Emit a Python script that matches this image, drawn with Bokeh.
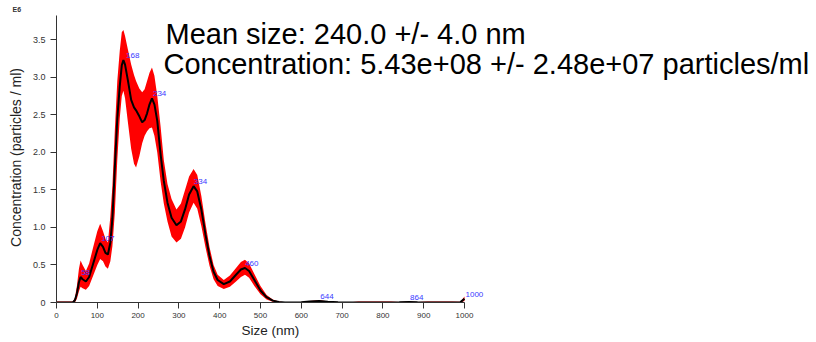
from bokeh.plotting import figure
from bokeh.models import (ColumnDataSource, LabelSet, Label, Range1d, FixedTicker,
                          CustomJSTickFormatter, Title)
from bokeh.core.properties import value
from bokeh.embed import file_html
from bokeh.resources import INLINE

# ---- data ----
size_nm = [0, 40, 45, 50, 55, 59, 64, 72, 80, 90, 100, 107, 114, 120, 126, 132, 137, 143, 149, 155,
           160, 164, 168, 175, 183, 190, 195, 203, 210, 216, 222, 228, 234, 240, 247, 255, 263, 272,
           282, 294, 305, 315, 325, 336, 345, 355, 365, 375, 385, 395, 410, 425, 440, 452, 462, 472,
           485, 500, 515, 530, 545, 560, 600, 620, 644, 665, 690, 720, 740, 820, 840, 864, 885, 910,
           970, 990, 1000]
conc_mean = [0, 0, 0.03, 0.12, 0.27, 0.34, 0.31, 0.28, 0.34, 0.52, 0.70, 0.79, 0.74, 0.66, 0.64, 0.80,
             1.12, 1.80, 2.45, 2.88, 3.16, 3.23, 3.17, 2.96, 2.70, 2.60, 2.56, 2.48, 2.40, 2.43, 2.52,
             2.64, 2.72, 2.64, 2.42, 1.98, 1.62, 1.33, 1.13, 1.03, 1.08, 1.24, 1.44, 1.55, 1.48, 1.24,
             0.91, 0.62, 0.41, 0.30, 0.245, 0.28, 0.37, 0.44, 0.46, 0.42, 0.30, 0.16, 0.07, 0.025,
             0.006, 0, 0.003, 0.012, 0.02, 0.01, 0.002, 0, 0, 0, 0.002, 0.006, 0.002, 0, 0, 0.005, 0.05]
conc_lower = [0, 0, 0.0, 0.05, 0.15, 0.21, 0.19, 0.17, 0.22, 0.36, 0.50, 0.58, 0.55, 0.48, 0.45, 0.55,
              0.75, 1.20, 1.90, 2.45, 2.75, 2.82, 2.72, 2.40, 2.05, 1.85, 1.80, 1.95, 2.12, 2.22, 2.28,
              2.32, 2.33, 2.22, 2.00, 1.62, 1.32, 1.08, 0.88, 0.80, 0.85, 1.00, 1.20, 1.33, 1.25, 1.02,
              0.74, 0.49, 0.31, 0.22, 0.18, 0.21, 0.28, 0.34, 0.37, 0.33, 0.22, 0.11, 0.04, 0.01,
              0.0, 0, 0, 0.004, 0.012, 0.004, 0, 0, 0, 0, 0, 0.002, 0, 0, 0, 0, 0.02]
conc_upper = [0.012, 0.012, 0.06, 0.22, 0.45, 0.56, 0.50, 0.42, 0.52, 0.74, 0.95, 1.05, 0.95, 0.85, 0.80,
              1.15, 1.55, 2.30, 2.95, 3.35, 3.60, 3.63, 3.55, 3.37, 3.17, 3.03, 2.95, 2.85, 2.80, 2.84,
              2.95, 3.06, 3.13, 3.02, 2.75, 2.35, 1.90, 1.58, 1.38, 1.24, 1.32, 1.50, 1.68, 1.78, 1.70,
              1.42, 1.06, 0.74, 0.50, 0.37, 0.30, 0.36, 0.46, 0.54, 0.57, 0.52, 0.38, 0.22, 0.10, 0.04,
              0.012, 0.004, 0.008, 0.02, 0.03, 0.018, 0.006, 0.002, 0.012, 0.012, 0.006, 0.012, 0.006,
              0.012, 0.012, 0.01, 0.08]

peak_sizes = [58, 107, 168, 234, 334, 460, 644, 864, 1000]
peak_heights = [0.34, 0.79, 3.23, 2.72, 1.55, 0.46, 0.02, 0.006, 0.05]
peak_labels = ["58", "107", "168", "234", "334", "460", "644", "864", "1000"]

x_ticks = [0, 100, 200, 300, 400, 500, 600, 700, 800, 900, 1000]
y_ticks = [0, 0.5, 1.0, 1.5, 2.0, 2.5, 3.0, 3.5]

title_line1 = "Mean size: 240.0 +/- 4.0 nm"
title_line2 = "Concentration: 5.43e+08 +/- 2.48e+07 particles/ml"
y_exponent = "E6"

FONT = "Liberation Sans"
PX_PER_NM = 0.408
PX_PER_UNIT = 75.06
FRAME_TOP = 12
FRAME_BOTTOM = 302

# frame spans x 56..816 px and y 12..302 px; axes are bounded to the data region
p = figure(width=816, height=342, output_backend="svg", toolbar_location=None,
           x_range=Range1d(0, (816 - 56) / PX_PER_NM),
           y_range=Range1d(0, (FRAME_BOTTOM - FRAME_TOP) / PX_PER_UNIT))
p.min_border_left = 56
p.min_border_right = 0
p.min_border_top = FRAME_TOP
p.min_border_bottom = 342 - FRAME_BOTTOM
p.outline_line_color = None
p.grid.visible = False
p.background_fill_color = "white"
p.border_fill_color = "white"

src = ColumnDataSource(dict(x=size_nm, m=conc_mean, lo=conc_lower, hi=conc_upper))
p.varea(x="x", y1="lo", y2="hi", source=src, fill_color="#ff0000")
p.line(x="x", y="m", source=src, line_color="black", line_width=2)

lab_src = ColumnDataSource(dict(x=peak_sizes, y=peak_heights, t=peak_labels))
p.add_layout(LabelSet(x="x", y="y", text="t", source=lab_src, x_offset=1, y_offset=2,
                      text_font=value(FONT), text_font_size="8px", text_color="#3a3aff",
                      text_baseline="alphabetic"))

for ax in (p.xaxis[0], p.yaxis[0]):
    ax.axis_line_color = "#333333"
    ax.major_tick_line_color = "#333333"
    ax.major_tick_out = 6
    ax.major_tick_in = 0
    ax.minor_tick_line_color = None
    ax.major_label_text_font = FONT
    ax.major_label_text_color = "#333333"
    ax.axis_label_text_font = FONT
    ax.axis_label_text_font_style = "normal"
    ax.axis_label_text_color = "#222222"

p.xaxis.bounds = (-15, 1000)
p.yaxis.bounds = (0, 3.825)
p.xaxis.ticker = FixedTicker(ticks=x_ticks)
p.yaxis.ticker = FixedTicker(ticks=y_ticks)
p.yaxis.formatter = CustomJSTickFormatter(code="return tick == 0 ? '0' : tick.toFixed(1);")
p.xaxis.major_label_text_font_size = "8px"
p.yaxis.major_label_text_font_size = "9px"
p.yaxis.axis_label = "Concentration (particles / ml)"
p.yaxis.axis_label_text_font_size = "14px"
p.xaxis.major_label_standoff = 4
p.yaxis.major_label_standoff = 5
p.yaxis.axis_label_standoff = 6

# x-axis title placed below the axis, starting at x = 241 px
p.add_layout(Title(text="Size (nm)", align="left", offset=185, standoff=0,
                   text_font=FONT, text_font_size="13.5px", text_font_style="normal",
                   text_color="#222222"), "below")

# the "E6" exponent note at the top-left corner
p.add_layout(Title(text=y_exponent, align="left", offset=-44, standoff=0,
                   text_font=FONT, text_font_size="7px", text_font_style="bold",
                   text_color="#333333"), "above")

p.add_layout(Label(x=165 - 56, y=FRAME_BOTTOM - 33.3, x_units="screen", y_units="screen",
                   text=title_line1, text_font=FONT, text_font_size="29px", text_color="black",
                   text_baseline="alphabetic"))
p.add_layout(Label(x=163 - 56, y=FRAME_BOTTOM - 63.3, x_units="screen", y_units="screen",
                   text=title_line2, text_font=FONT, text_font_size="29px", text_color="black",
                   text_baseline="alphabetic"))

open("out.html", "w").write(file_html(p, INLINE))
